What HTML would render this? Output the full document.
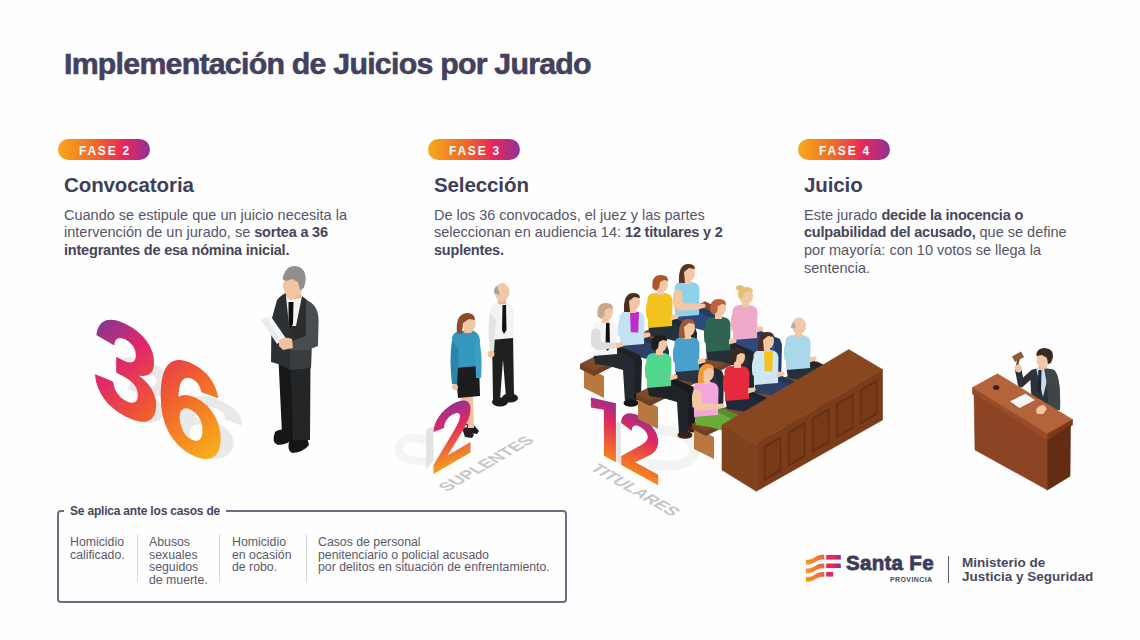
<!DOCTYPE html>
<html><head><meta charset="utf-8">
<style>
html,body{margin:0;padding:0;}
body{width:1140px;height:640px;overflow:hidden;background:#fefefe;position:relative;font-family:"Liberation Sans",sans-serif;color:#46445c;}
.abs{position:absolute;white-space:nowrap;}
#title{left:64px;top:44.2px;font-size:30.3px;font-weight:bold;color:#43415e;letter-spacing:-0.75px;line-height:40px;-webkit-text-stroke:0.6px #43415e;}
.pill{position:absolute;top:139px;height:21px;width:92px;border-radius:11px;background:linear-gradient(90deg,#f7a81b 0%,#f06a28 40%,#e8265c 72%,#8c3496 100%);color:#fff;font-weight:bold;font-size:12px;letter-spacing:1.8px;line-height:24px;text-align:center;text-indent:2px;}
.h2{position:absolute;top:172px;font-size:20.5px;font-weight:bold;color:#403e5a;letter-spacing:-0.1px;line-height:26px;white-space:nowrap;}
.body{position:absolute;top:206.5px;font-size:14.5px;line-height:17.8px;color:#565569;white-space:nowrap;}
.body b{color:#46455b;letter-spacing:-0.2px;}
#box{position:absolute;left:57px;top:510px;width:506px;height:89px;border:2px solid #6e6c82;border-radius:4px;}
#boxlabel{position:absolute;left:64px;top:503px;padding:0 6px;background:#fefefe;font-size:12px;font-weight:bold;color:#48465e;line-height:16px;white-space:nowrap;letter-spacing:-0.2px;}
.col{position:absolute;top:535.8px;font-size:12.3px;line-height:12.8px;color:#5a596c;white-space:nowrap;}
.div{position:absolute;top:534px;width:1px;height:48px;background:#d6d6de;}
</style></head>
<body>
<svg id="ill" class="abs" style="left:0;top:0" width="1140" height="640" viewBox="0 0 1140 640">
<defs>
<linearGradient id="g36" gradientUnits="userSpaceOnUse" x1="5" y1="-92" x2="125" y2="0"><stop offset="0" stop-color="#5f3ea0"/><stop offset="0.3" stop-color="#e0266a"/><stop offset="0.58" stop-color="#f05a30"/><stop offset="1" stop-color="#f8b818"/></linearGradient>
<linearGradient id="g2" gradientUnits="userSpaceOnUse" x1="25" y1="-56" x2="12" y2="0"><stop offset="0" stop-color="#9a3090"/><stop offset="0.35" stop-color="#e2285e"/><stop offset="1" stop-color="#f39a1c"/></linearGradient>
<linearGradient id="g12" gradientUnits="userSpaceOnUse" x1="0" y1="-58" x2="6" y2="0"><stop offset="0" stop-color="#9a3090"/><stop offset="0.35" stop-color="#e2285e"/><stop offset="1" stop-color="#f5821e"/></linearGradient>
</defs>
<!-- ===== Illustration 1: 36 ===== -->
<g font-family="Liberation Sans" font-weight="bold">
 <text transform="translate(92,398) matrix(1,0.5,-0.32,0.6,0,0)" font-size="122" fill="#e9e9e9">3</text>
 <text transform="translate(92,401) matrix(1,0.5,-0.32,0.6,0,0)" font-size="122" fill="#e9e9e9"><tspan x="67.5">6</tspan></text>
 <text transform="translate(93,398) matrix(1,0.5,0,1.07,0,0)" font-size="120" fill="url(#g36)" stroke="url(#g36)" stroke-width="1.5" stroke-linejoin="round">3</text>
 <text transform="translate(90,402) matrix(1,0.5,0,1.05,0,0)" font-size="121" fill="url(#g36)" stroke="url(#g36)" stroke-width="1.5" stroke-linejoin="round"><tspan x="67">6</tspan></text>
</g>
<!-- man in suit -->
<g>
 <path d="M275 432 Q280 428 292 430 L295 437 Q290 444 278 445 Q271 443 275 432 Z" fill="#141516"/>
 <path d="M290 439 Q296 435 307 437 L309 445 Q304 452 292 453 Q286 450 290 439 Z" fill="#141516"/>
 <path d="M278.5 360 L295 360 L294.5 434 L282 434 Z" fill="#161718"/>
 <path d="M290 364 L310.5 364 L310 440 L293 440 L292 400 Z" fill="#232526"/>
 <path d="M277 300 Q282 294 288 292 L302 296 L307 300 L312 320 L311 368 L290 370 L278 364 L271 362 L271.5 320 Z" fill="#2d3032"/>
 <path d="M290 330 L307 300 L312 320 L311 368 L290 370 Z" fill="#2a2c2e"/>
 <path d="M290 348 L311 346 L310.6 368 L290 370 Z" fill="#3a3d40"/>
 <path d="M286 296 L302 296 L296 326 L289 326 Z" fill="#f3f3f3"/>
 <path d="M288.5 302 L293.5 302 L293 324 L290.5 328 L288.5 324 Z" fill="#0f0f10"/>
 <path d="M287 286 L300 286 L301 298 L289 300 Z" fill="#e8b794"/>
 <path d="M284 280 Q283 274 290 273 L300 274 L302 292 L294 299 L287 298 L285 292 L282.5 287 Z" fill="#f2c4a2"/>
 <path d="M282.5 279 Q285 266 295 266 Q306 267 305.7 280 L304 288 L300 290 L298 282 L292 279 L286 281 Z" fill="#8f8f8f"/>
 <path d="M306 300 Q318 304 318.6 320 L318 346 L308 350 L290 350 L289 342 L306 336 Z" fill="#4a4d50"/>
 <path d="M261 320 L270 315.5 L285.5 338 L277 344 Z" fill="#ebebeb"/>
 <path d="M270 315.5 L285.5 338 L281 341 L267 318 Z" fill="#f6f6f6"/>
 <path d="M279 340 Q285 336 292 339 L293 348 L283 350 L279 346 Z" fill="#f0c2a0"/>
</g>
<!-- ILL234 -->
<!-- suplentes -->
<g>
<path d="M426 441 C412 434 398 440 399 451 C400 459 412 462 427 461" fill="none" stroke="#f4f4f5" stroke-width="8"/>
<!-- bald man -->
<ellipse cx="500" cy="402" rx="8" ry="4.5" fill="#1c1c1c"/>
<ellipse cx="510" cy="398" rx="8" ry="4.5" fill="#1c1c1c"/>
<path d="M492 336 L513 334 L514 396 L506 398 L503 360 L500 400 L493 400 Z" fill="#1f2022"/>
<path d="M490 310 Q491 303 498 302 L507 302 Q513 304 514 312 L513 338 L491 340 Z" fill="#f3f3f3"/>
<path d="M490 312 Q487 330 490 350 L494 352 L496 320 Z" fill="#e4e4e4"/>
<path d="M502.5 305 L506 305 L506.5 330 L504 334 L502 330 Z" fill="#111"/>
<ellipse cx="491" cy="354" rx="3.5" ry="3.5" fill="#f0c2a0"/>
<rect x="498" y="296" width="8" height="8" fill="#eab896"/>
<ellipse cx="502" cy="292" rx="7.5" ry="9" fill="#f3c6a5"/>
<path d="M494 293 Q494 287 497 286 L500 295 Z" fill="#9aa2a6"/>
<!-- woman -->
<path d="M466 424 L472 423 L479 431 L477 434 L470 433 Z" fill="#1c1c1c"/>
<path d="M462 428 L468 427 L474 435 L472 438 L465 437 Z" fill="#222"/>
<path d="M461 396 L473 396 L474 428 L468 428 L467 410 L465 426 L461 424 Z" fill="#f2c2a0"/>
<path d="M455 364 L479 362 L480 396 L458 398 Z" fill="#1d1d1f"/>
<path d="M452 338 Q453 331 462 331 L474 331 Q481 334 480 345 L479 366 L455 368 Z" fill="#3497c0"/>
<path d="M452 340 Q449 360 452 384 L457 385 L459 350 Z" fill="#2b84ab"/>
<path d="M478 338 Q483 350 481 378 L476 378 L475 345 Z" fill="#3aa0c8"/>
<ellipse cx="455" cy="387" rx="3" ry="3" fill="#f2c2a0"/>
<rect x="464" y="326" width="7" height="7" fill="#eab896"/>
<ellipse cx="469" cy="324" rx="6.5" ry="9" fill="#f3c6a5"/>
<path d="M457 333 Q455 314 467 313 Q475 313 475 320 L469 319 L463 323 L462 334 Z" fill="#8c4a2a"/>
<!-- 2 -->
<path transform="translate(426,470) matrix(1,-0.58,0,1,0,0)" d="M0 -40 L7.5 -40 L7.5 -6 L0 0 Z" fill="#e3e3e5"/>
<path transform="translate(433.5,474) matrix(1,-0.58,0,1,0,0)" d="M0 0 L37 0 L37 -10.5 L14 -10.5 L30 -27 C35 -33 37 -38 37 -44 C37 -53 29 -59 19 -59 C8 -59 0 -52 0 -42 L10.5 -40 C10.5 -45 14 -48.5 19 -48.5 C23.5 -48.5 26.5 -46 26.5 -43 C26.5 -39 24 -35.5 20 -31 L0 -9 Z" fill="url(#g2)"/>
<g font-family="Liberation Sans" font-weight="bold">
<text transform="translate(447,492) matrix(0.866,-0.5,0.866,0.5,0,0)" font-size="17" fill="#c6c6ca">SUPLENTES</text>
</g>
</g>
<!-- jury -->
<g font-family="Liberation Sans" font-weight="bold">
<path d="M652 430 C676 428 700 440 694 455 C688 466 668 468 648 463" fill="none" stroke="#f3f3f4" stroke-width="10"/>
<path d="M615 424 L621 421 L621 465 L615 461 Z" fill="#e4e4e6"/>
<path transform="translate(604.9,456.3) matrix(1,0.55,0,1,0,0)" d="M-14 -51 L11 -59 L11 0 L-1 0 L-1 -46 L-14 -41 Z" fill="url(#g12)"/>
<path transform="translate(621.2,465) matrix(1,0.55,0,1,0,0)" d="M0 0 L37 0 L37 -10.5 L14 -10.5 L30 -27 C35 -33 37 -38 37 -44 C37 -53 29 -59 19 -59 C8 -59 0 -52 0 -42 L10.5 -40 C10.5 -45 14 -48.5 19 -48.5 C23.5 -48.5 26.5 -46 26.5 -43 C26.5 -39 24 -35.5 20 -31 L0 -9 Z" fill="url(#g12)"/>
<text transform="translate(589,469) matrix(0.866,0.5,-0.866,0.5,0,0)" font-size="17" fill="#c6c6ca">TITULARES</text>
</g>
<path d="M584 366.0 L604 376.0 L604 398.0 L584 388.0 Z" fill="#b8783f"/>
<path d="M580 364 L705 301.5 L719 308.5 L719 313.5 L594 376 L580 369 Z" fill="#6e4125"/>
<path d="M580 364 L705 301.5 L719 308.5 L594 371 Z" fill="#7d4b2b"/>
<g transform="translate(687,265) scale(1.0)">
<path d="M-4 45 L16 43 L35 51 L37 57 L36 91 L28 93 L27 63 L10 59 Z" fill="#2d4a7a"/>
<path d="M-4 45 L16 43 L35 51 L37 57 L36 91 L28 93 L27 63 L10 59 Z" fill="#000" opacity="0.18"/>
<ellipse cx="34" cy="93" rx="7" ry="3.5" fill="#3a1f1f"/>
<path d="M-12 48 L10 46 L28 55 L30 60 L29 96 L20 98 L18 66 L4 62 L-10 60 Z" fill="#2d4a7a"/>
<ellipse cx="26" cy="99" rx="7.5" ry="3.8" fill="#3a1f1f"/>
<path d="M-12.5 22 Q-11 17 -4 17 L5 17 Q12.5 18 12.5 25 L12 50 L-12 52 Z" fill="#8fd0ea"/>
<path d="M-10.5 24 Q-15.5 26 -13.5 42 L-7 46 L12 44 L13 39 L-4 38 L-5 26 Z" fill="#f3c6a5"/>
<path d="M11 39 L17 38.5 Q19.5 40 18 42.5 L11 44.5 Z" fill="#f3c6a5"/>
<rect x="-3" y="13" width="7" height="6" fill="#f3c6a5"/>
<ellipse cx="1" cy="8" rx="7" ry="8.5" fill="#f3c6a5"/>
<path d="M-8 18 Q-9 -1 1 -1 Q8 -1 8 4 L2 3 L-3 7 L-2 18 Z" fill="#5a3626"/>
</g>
<g transform="translate(660,276) scale(1.0)">
<path d="M-4 45 L16 43 L35 51 L37 57 L36 91 L28 93 L27 63 L10 59 Z" fill="#26303a"/>
<path d="M-4 45 L16 43 L35 51 L37 57 L36 91 L28 93 L27 63 L10 59 Z" fill="#000" opacity="0.18"/>
<ellipse cx="34" cy="93" rx="7" ry="3.5" fill="#3a1f1f"/>
<path d="M-12 48 L10 46 L28 55 L30 60 L29 96 L20 98 L18 66 L4 62 L-10 60 Z" fill="#26303a"/>
<ellipse cx="26" cy="99" rx="7.5" ry="3.8" fill="#3a1f1f"/>
<path d="M-12.5 22 Q-11 17 -4 17 L5 17 Q12.5 18 12.5 25 L12 50 L-12 52 Z" fill="#f2c31e"/>
<path d="M-10.5 24 Q-15.5 26 -13.5 42 L-7 46 L12 44 L13 39 L-4 38 L-5 26 Z" fill="#f2c31e"/>
<path d="M11 39 L17 38.5 Q19.5 40 18 42.5 L11 44.5 Z" fill="#f3c6a5"/>
<rect x="-3" y="13" width="7" height="6" fill="#f3c6a5"/>
<ellipse cx="1" cy="8" rx="7" ry="8.5" fill="#f3c6a5"/>
<path d="M-7.5 12 Q-9 -1 1 -1 Q8.5 -1 8 5 L4 4 L0 6 L-1 12 L-4 15 Z" fill="#a8572c"/>
</g>
<g transform="translate(632,294) scale(1.0)">
<path d="M-4 45 L16 43 L35 51 L37 57 L36 91 L28 93 L27 63 L10 59 Z" fill="#2d4066"/>
<path d="M-4 45 L16 43 L35 51 L37 57 L36 91 L28 93 L27 63 L10 59 Z" fill="#000" opacity="0.18"/>
<ellipse cx="34" cy="93" rx="7" ry="3.5" fill="#3a1f1f"/>
<path d="M-12 48 L10 46 L28 55 L30 60 L29 96 L20 98 L18 66 L4 62 L-10 60 Z" fill="#2d4066"/>
<ellipse cx="26" cy="99" rx="7.5" ry="3.8" fill="#3a1f1f"/>
<path d="M-12.5 22 Q-11 17 -4 17 L5 17 Q12.5 18 12.5 25 L12 50 L-12 52 Z" fill="#c5e2f2"/>
<path d="M-2 18 L7 18 L6 44 L-1 44 Z" fill="#b92fc8"/>
<path d="M-10.5 24 Q-15.5 26 -13.5 42 L-7 46 L12 44 L13 39 L-4 38 L-5 26 Z" fill="#c5e2f2"/>
<path d="M11 39 L17 38.5 Q19.5 40 18 42.5 L11 44.5 Z" fill="#f3c6a5"/>
<rect x="-3" y="13" width="7" height="6" fill="#f3c6a5"/>
<ellipse cx="1" cy="8" rx="7" ry="8.5" fill="#f3c6a5"/>
<path d="M-8 18 Q-9 -1 1 -1 Q8 -1 8 4 L2 3 L-3 7 L-2 18 Z" fill="#4a2e22"/>
</g>
<g transform="translate(605,304) scale(1.0)">
<path d="M-4 45 L16 43 L35 51 L37 57 L36 91 L28 93 L27 63 L10 59 Z" fill="#252a30"/>
<path d="M-4 45 L16 43 L35 51 L37 57 L36 91 L28 93 L27 63 L10 59 Z" fill="#000" opacity="0.18"/>
<ellipse cx="34" cy="93" rx="7" ry="3.5" fill="#161616"/>
<path d="M-12 48 L10 46 L28 55 L30 60 L29 96 L20 98 L18 66 L4 62 L-10 60 Z" fill="#252a30"/>
<ellipse cx="26" cy="99" rx="7.5" ry="3.8" fill="#161616"/>
<path d="M-12.5 22 Q-11 17 -4 17 L5 17 Q12.5 18 12.5 25 L12 50 L-12 52 Z" fill="#f5f5f5"/>
<path d="M1 19 L4.5 19 L5 44 L2.5 47 L0.5 44 Z" fill="#111"/>
<path d="M-10.5 24 Q-15.5 26 -13.5 42 L-7 46 L12 44 L13 39 L-4 38 L-5 26 Z" fill="#dedede"/>
<path d="M11 39 L17 38.5 Q19.5 40 18 42.5 L11 44.5 Z" fill="#f3c6a5"/>
<rect x="-3" y="13" width="7" height="6" fill="#f3c6a5"/>
<ellipse cx="1" cy="8" rx="7" ry="8.5" fill="#f3c6a5"/>
<path d="M-7.5 12 Q-9 -1 1 -1 Q8.5 -1 8 5 L4 4 L0 6 L-1 12 L-4 15 Z" fill="#c8a88a"/>
</g>
<path d="M638 397.0 L658 407.0 L658 429.0 L638 419.0 Z" fill="#b8783f"/>
<path d="M636 394 L756 334.0 L770 341.0 L770 346.0 L650 406 L636 399 Z" fill="#6e4125"/>
<path d="M636 394 L756 334.0 L770 341.0 L650 401 Z" fill="#7d4b2b"/>
<g transform="translate(745,288) scale(1.0)">
<path d="M-4 45 L16 43 L35 51 L37 57 L36 91 L28 93 L27 63 L10 59 Z" fill="#2d4a7a"/>
<path d="M-4 45 L16 43 L35 51 L37 57 L36 91 L28 93 L27 63 L10 59 Z" fill="#000" opacity="0.18"/>
<ellipse cx="34" cy="93" rx="7" ry="3.5" fill="#3a1f1f"/>
<path d="M-12 48 L10 46 L28 55 L30 60 L29 96 L20 98 L18 66 L4 62 L-10 60 Z" fill="#2d4a7a"/>
<ellipse cx="26" cy="99" rx="7.5" ry="3.8" fill="#3a1f1f"/>
<path d="M-12.5 22 Q-11 17 -4 17 L5 17 Q12.5 18 12.5 25 L12 50 L-12 52 Z" fill="#efa9c9"/>
<path d="M-10.5 24 Q-15.5 26 -13.5 42 L-7 46 L12 44 L13 39 L-4 38 L-5 26 Z" fill="#efa9c9"/>
<path d="M11 39 L17 38.5 Q19.5 40 18 42.5 L11 44.5 Z" fill="#f3c6a5"/>
<rect x="-3" y="13" width="7" height="6" fill="#f3c6a5"/>
<ellipse cx="1" cy="8" rx="7" ry="8.5" fill="#f3c6a5"/>
<path d="M-7 9 Q-8 -1 1 -1 Q8 -1 8 4 L3 3 L-2 6 L-3 11 Z" fill="#e0c27a"/><ellipse cx="-5" cy="0" rx="4" ry="3" fill="#e0c27a"/>
</g>
<g transform="translate(718,300) scale(1.0)">
<path d="M-4 45 L16 43 L35 51 L37 57 L36 91 L28 93 L27 63 L10 59 Z" fill="#26303a"/>
<path d="M-4 45 L16 43 L35 51 L37 57 L36 91 L28 93 L27 63 L10 59 Z" fill="#000" opacity="0.18"/>
<ellipse cx="34" cy="93" rx="7" ry="3.5" fill="#3a1f1f"/>
<path d="M-12 48 L10 46 L28 55 L30 60 L29 96 L20 98 L18 66 L4 62 L-10 60 Z" fill="#26303a"/>
<ellipse cx="26" cy="99" rx="7.5" ry="3.8" fill="#3a1f1f"/>
<path d="M-12.5 22 Q-11 17 -4 17 L5 17 Q12.5 18 12.5 25 L12 50 L-12 52 Z" fill="#2f6453"/>
<path d="M-10.5 24 Q-15.5 26 -13.5 42 L-7 46 L12 44 L13 39 L-4 38 L-5 26 Z" fill="#2f6453"/>
<path d="M11 39 L17 38.5 Q19.5 40 18 42.5 L11 44.5 Z" fill="#f3c6a5"/>
<rect x="-3" y="13" width="7" height="6" fill="#f3c6a5"/>
<ellipse cx="1" cy="8" rx="7" ry="8.5" fill="#f3c6a5"/>
<path d="M-7.5 12 Q-9 -1 1 -1 Q8.5 -1 8 5 L4 4 L0 6 L-1 12 L-4 15 Z" fill="#b9643a"/>
</g>
<g transform="translate(687,320) scale(1.0)">
<path d="M-4 45 L16 43 L35 51 L37 57 L36 91 L28 93 L27 63 L10 59 Z" fill="#2b3440"/>
<path d="M-4 45 L16 43 L35 51 L37 57 L36 91 L28 93 L27 63 L10 59 Z" fill="#000" opacity="0.18"/>
<ellipse cx="34" cy="93" rx="7" ry="3.5" fill="#3a1f1f"/>
<path d="M-12 48 L10 46 L28 55 L30 60 L29 96 L20 98 L18 66 L4 62 L-10 60 Z" fill="#2b3440"/>
<ellipse cx="26" cy="99" rx="7.5" ry="3.8" fill="#3a1f1f"/>
<path d="M-12.5 22 Q-11 17 -4 17 L5 17 Q12.5 18 12.5 25 L12 50 L-12 52 Z" fill="#4aa0cc"/>
<path d="M-10.5 24 Q-15.5 26 -13.5 42 L-7 46 L12 44 L13 39 L-4 38 L-5 26 Z" fill="#4aa0cc"/>
<path d="M11 39 L17 38.5 Q19.5 40 18 42.5 L11 44.5 Z" fill="#f3c6a5"/>
<rect x="-3" y="13" width="7" height="6" fill="#f3c6a5"/>
<ellipse cx="1" cy="8" rx="7" ry="8.5" fill="#f3c6a5"/>
<path d="M-8 18 Q-9 -1 1 -1 Q8 -1 8 4 L2 3 L-3 7 L-2 18 Z" fill="#9a5a36"/>
</g>
<g transform="translate(659,336) scale(1.0)">
<path d="M-4 45 L16 43 L35 51 L37 57 L36 91 L28 93 L27 63 L10 59 Z" fill="#1f2226"/>
<path d="M-4 45 L16 43 L35 51 L37 57 L36 91 L28 93 L27 63 L10 59 Z" fill="#000" opacity="0.18"/>
<ellipse cx="34" cy="93" rx="7" ry="3.5" fill="#3a1f1f"/>
<path d="M-12 48 L10 46 L28 55 L30 60 L29 96 L20 98 L18 66 L4 62 L-10 60 Z" fill="#1f2226"/>
<ellipse cx="26" cy="99" rx="7.5" ry="3.8" fill="#3a1f1f"/>
<path d="M-12.5 22 Q-11 17 -4 17 L5 17 Q12.5 18 12.5 25 L12 50 L-12 52 Z" fill="#52d68e"/>
<path d="M-10.5 24 Q-15.5 26 -13.5 42 L-7 46 L12 44 L13 39 L-4 38 L-5 26 Z" fill="#52d68e"/>
<path d="M11 39 L17 38.5 Q19.5 40 18 42.5 L11 44.5 Z" fill="#f3c6a5"/>
<rect x="-3" y="13" width="7" height="6" fill="#f3c6a5"/>
<ellipse cx="1" cy="8" rx="7" ry="8.5" fill="#f3c6a5"/>
<path d="M-7.5 12 Q-9 -1 1 -1 Q8.5 -1 8 5 L4 4 L0 6 L-1 12 L-4 15 Z" fill="#1d1d22"/>
</g>
<path d="M694 427.0 L714 437.0 L714 459.0 L694 449.0 Z" fill="#b8783f"/>
<path d="M692 424 L817 361.5 L831 368.5 L831 373.5 L706 436 L692 429 Z" fill="#6e4125"/>
<path d="M692 424 L817 361.5 L831 368.5 L706 431 Z" fill="#7d4b2b"/>
<g transform="translate(798,318) scale(1.0)">
<path d="M-4 45 L16 43 L35 51 L37 57 L36 91 L28 93 L27 63 L10 59 Z" fill="#26303a"/>
<path d="M-4 45 L16 43 L35 51 L37 57 L36 91 L28 93 L27 63 L10 59 Z" fill="#000" opacity="0.18"/>
<ellipse cx="34" cy="93" rx="7" ry="3.5" fill="#3a1f1f"/>
<path d="M-12 48 L10 46 L28 55 L30 60 L29 96 L20 98 L18 66 L4 62 L-10 60 Z" fill="#26303a"/>
<ellipse cx="26" cy="99" rx="7.5" ry="3.8" fill="#3a1f1f"/>
<path d="M-12.5 22 Q-11 17 -4 17 L5 17 Q12.5 18 12.5 25 L12 50 L-12 52 Z" fill="#aad7ea"/>
<path d="M-10.5 24 Q-15.5 26 -13.5 42 L-7 46 L12 44 L13 39 L-4 38 L-5 26 Z" fill="#aad7ea"/>
<path d="M11 39 L17 38.5 Q19.5 40 18 42.5 L11 44.5 Z" fill="#f3c6a5"/>
<rect x="-3" y="13" width="7" height="6" fill="#f3c6a5"/>
<ellipse cx="1" cy="8" rx="7" ry="8.5" fill="#f3c6a5"/>
<path d="M-7 10 Q-7 5 -4 4 L-2 10 Z" fill="#aab0b4"/>
</g>
<g transform="translate(766,333) scale(1.0)">
<path d="M-4 45 L16 43 L35 51 L37 57 L36 91 L28 93 L27 63 L10 59 Z" fill="#2d4066"/>
<path d="M-4 45 L16 43 L35 51 L37 57 L36 91 L28 93 L27 63 L10 59 Z" fill="#000" opacity="0.18"/>
<ellipse cx="34" cy="93" rx="7" ry="3.5" fill="#3a1f1f"/>
<path d="M-12 48 L10 46 L28 55 L30 60 L29 96 L20 98 L18 66 L4 62 L-10 60 Z" fill="#2d4066"/>
<ellipse cx="26" cy="99" rx="7.5" ry="3.8" fill="#3a1f1f"/>
<path d="M-12.5 22 Q-11 17 -4 17 L5 17 Q12.5 18 12.5 25 L12 50 L-12 52 Z" fill="#cfe6f4"/>
<path d="M-2 18 L7 18 L6 44 L-1 44 Z" fill="#f4c21c"/>
<path d="M-10.5 24 Q-15.5 26 -13.5 42 L-7 46 L12 44 L13 39 L-4 38 L-5 26 Z" fill="#cfe6f4"/>
<path d="M11 39 L17 38.5 Q19.5 40 18 42.5 L11 44.5 Z" fill="#f3c6a5"/>
<rect x="-3" y="13" width="7" height="6" fill="#f3c6a5"/>
<ellipse cx="1" cy="8" rx="7" ry="8.5" fill="#f3c6a5"/>
<path d="M-8 18 Q-9 -1 1 -1 Q8 -1 8 4 L2 3 L-3 7 L-2 18 Z" fill="#4a2e22"/>
</g>
<g transform="translate(737,349) scale(1.0)">
<path d="M-4 45 L16 43 L35 51 L37 57 L36 91 L28 93 L27 63 L10 59 Z" fill="#1f2a3a"/>
<path d="M-4 45 L16 43 L35 51 L37 57 L36 91 L28 93 L27 63 L10 59 Z" fill="#000" opacity="0.18"/>
<ellipse cx="34" cy="93" rx="7" ry="3.5" fill="#3a1f1f"/>
<path d="M-12 48 L10 46 L28 55 L30 60 L29 96 L20 98 L18 66 L4 62 L-10 60 Z" fill="#1f2a3a"/>
<ellipse cx="26" cy="99" rx="7.5" ry="3.8" fill="#3a1f1f"/>
<path d="M-12.5 22 Q-11 17 -4 17 L5 17 Q12.5 18 12.5 25 L12 50 L-12 52 Z" fill="#e62a3e"/>
<path d="M-10.5 24 Q-15.5 26 -13.5 42 L-7 46 L12 44 L13 39 L-4 38 L-5 26 Z" fill="#e62a3e"/>
<path d="M11 39 L17 38.5 Q19.5 40 18 42.5 L11 44.5 Z" fill="#f3c6a5"/>
<rect x="-3" y="13" width="7" height="6" fill="#f3c6a5"/>
<ellipse cx="1" cy="8" rx="7" ry="8.5" fill="#f3c6a5"/>
<path d="M-7.5 12 Q-9 -1 1 -1 Q8.5 -1 8 5 L4 4 L0 6 L-1 12 L-4 15 Z" fill="#3a2a24"/>
</g>
<g transform="translate(706,365) scale(1.0)">
<path d="M-4 45 L16 43 L35 51 L37 57 L36 91 L28 93 L27 63 L10 59 Z" fill="#6aac3a"/>
<path d="M-4 45 L16 43 L35 51 L37 57 L36 91 L28 93 L27 63 L10 59 Z" fill="#000" opacity="0.18"/>
<ellipse cx="34" cy="93" rx="7" ry="3.5" fill="#3a1f1f"/>
<path d="M-12 48 L10 46 L28 55 L30 60 L29 96 L20 98 L18 66 L4 62 L-10 60 Z" fill="#6aac3a"/>
<ellipse cx="26" cy="99" rx="7.5" ry="3.8" fill="#3a1f1f"/>
<path d="M-12.5 22 Q-11 17 -4 17 L5 17 Q12.5 18 12.5 25 L12 50 L-12 52 Z" fill="#f3a5dc"/>
<path d="M-10.5 24 Q-15.5 26 -13.5 42 L-7 46 L12 44 L13 39 L-4 38 L-5 26 Z" fill="#f3c6a5"/>
<path d="M11 39 L17 38.5 Q19.5 40 18 42.5 L11 44.5 Z" fill="#f3c6a5"/>
<rect x="-3" y="13" width="7" height="6" fill="#f3c6a5"/>
<ellipse cx="1" cy="8" rx="7" ry="8.5" fill="#f3c6a5"/>
<path d="M-8 18 Q-9 -1 1 -1 Q8 -1 8 4 L2 3 L-3 7 L-2 18 Z" fill="#f09a3a"/>
</g>
<path d="M722 425 L756.25 443.75 L756.25 491.25 L722 470 Z" fill="#80411d" stroke="#80411d" stroke-width="0.6"/>
<path d="M756.25 443.75 L882.5 369.5 L882.5 420 L756.25 491.25 Z" fill="#7a3c1a" stroke="#7a3c1a" stroke-width="0.6"/>
<path d="M722 425 L848.75 349.5 L882.5 369.5 L756.25 443.75 Z" fill="#89471f" stroke="#89471f" stroke-width="0.6"/>
<path d="M763.75 446.25 L781.25 435.95 L781.25 470.95 L763.75 481.25 Z" fill="#652f10"/>
<path d="M765.35 447.45 L779.65 439.05 L779.65 469.45 L765.35 478.05 Z" fill="#773a19"/>
<path d="M787.81 432.10 L805.31 421.80 L805.31 456.80 L787.81 467.10 Z" fill="#652f10"/>
<path d="M789.41 433.30 L803.71 424.90 L803.71 455.30 L789.41 463.90 Z" fill="#773a19"/>
<path d="M811.87 417.96 L829.37 407.66 L829.37 442.66 L811.87 452.96 Z" fill="#652f10"/>
<path d="M813.47 419.16 L827.77 410.76 L827.77 441.16 L813.47 449.76 Z" fill="#773a19"/>
<path d="M835.93 403.81 L853.43 393.51 L853.43 428.51 L835.93 438.81 Z" fill="#652f10"/>
<path d="M837.53 405.01 L851.83 396.61 L851.83 427.01 L837.53 435.61 Z" fill="#773a19"/>
<path d="M859.99 389.66 L877.49 379.36 L877.49 414.36 L859.99 424.66 Z" fill="#652f10"/>
<path d="M861.59 390.86 L875.89 382.46 L875.89 412.86 L861.59 421.46 Z" fill="#773a19"/>
<!-- judge -->
<g stroke-linejoin="round">
<path d="M1033 373 L1021 384 L1018.5 371" fill="none" stroke="#2b3136" stroke-width="6.5" stroke-linecap="round"/>
<path d="M1030 372 Q1036 367 1044 367 L1054 370 Q1061 376 1060 410 L1034 410 L1031 392 Z" fill="#2c3237"/>
<path d="M1036 368 L1050 368 L1043 397 Z" fill="#c6def0"/>
<path d="M1038.5 370 L1041.5 370 L1041 391 L1039 394 L1037.5 391 Z" fill="#1c2632"/>
<path d="M1044 368 L1054 370 Q1061 376 1060 410 L1049 411 L1047 385 Z" fill="#3f474d"/>
<path d="M1050 382 L1059 384 L1058 405 L1046 414 L1038 410 L1049 402 Z" fill="#3d444a"/>
<path d="M1016.5 368 L1019.5 355" stroke="#6e4228" stroke-width="2.2"/>
<path d="M1012 356.5 L1021 351.5 L1024 357 L1015 362 Z" fill="#8c5a3a"/>
<ellipse cx="1018.5" cy="368.5" rx="3.2" ry="4" fill="#f0c3a2"/>
<rect x="1039" y="362" width="7" height="7" fill="#e6b493"/>
<path d="M1037 356 Q1037 350 1043 350 L1048 352 L1049 364 L1044 369 L1039 367 L1036.5 362 Z" fill="#f3c6a5"/>
<path d="M1036.5 356 Q1036 348 1045 348 Q1054 349 1053 357 L1051 363 L1048 364 L1047 358 L1042 355 Z" fill="#3b2a1f"/>
<path d="M972.5 387.5 L997.5 373.75 L1072.5 419.5 L1047.5 433.75 Z" fill="#b3643b" stroke="#b3643b" stroke-width="0.6"/>
<path d="M972.5 387.5 L1047.5 433.75 L1047.5 440 L972.5 394 Z" fill="#9b4b28" stroke="#9b4b28" stroke-width="0.6"/>
<path d="M1047.5 433.75 L1072.5 419.5 L1072.5 425 L1047.5 440 Z" fill="#7a3819" stroke="#7a3819" stroke-width="0.6"/>
<path d="M974 394 L1047.5 440 L1047.5 490 L975 450 Z" fill="#8c4425" stroke="#8c4425" stroke-width="0.6"/>
<path d="M1047.5 440 L1070.5 425 L1070 476.25 L1047.5 490 Z" fill="#642c13" stroke="#642c13" stroke-width="0.6"/>
<path d="M1010 401.25 L1025.5 393.75 L1035 400 L1019.5 408 Z" fill="#f6f6f6"/>
<ellipse cx="996.25" cy="387.5" rx="3.2" ry="2.3" fill="#3a1e14"/>
<path d="M1036 410 Q1038 405 1044 405 L1047 409 L1043 414 L1037 414 Z" fill="#f3c6a5"/>
</g>
<!-- /ILL234 -->
</svg>
<div id="title" class="abs">Implementación de Juicios por Jurado</div>

<div class="pill" style="left:58px">FASE 2</div>
<div class="pill" style="left:428px">FASE 3</div>
<div class="pill" style="left:798px">FASE 4</div>

<div class="h2" style="left:64px">Convocatoria</div>
<div class="h2" style="left:434px">Selección</div>
<div class="h2" style="left:804px">Juicio</div>

<div class="body" style="left:64px">Cuando se estipule que un juicio necesita la<br>intervención de un jurado, se <b>sortea a 36</b><br><b>integrantes de esa nómina inicial.</b></div>
<div class="body" style="left:434px">De los 36 convocados, el juez y las partes<br>seleccionan en audiencia 14: <b>12 titulares y 2</b><br><b>suplentes.</b></div>
<div class="body" style="left:804px">Este jurado <b>decide la inocencia o</b><br><b>culpabilidad del acusado,</b> que se define<br>por mayoría: con 10 votos se llega la<br>sentencia.</div>

<div id="box"></div>
<div id="boxlabel">Se aplica ante los casos de</div>
<div class="col" style="left:70px">Homicidio<br>calificado.</div>
<div class="div" style="left:137px"></div>
<div class="col" style="left:149px">Abusos<br>sexuales<br>seguidos<br>de muerte.</div>
<div class="div" style="left:219px"></div>
<div class="col" style="left:232px">Homicidio<br>en ocasión<br>de robo.</div>
<div class="div" style="left:306px"></div>
<div class="col" style="left:318px">Casos de personal<br>penitenciario o policial acusado<br>por delitos en situación de enfrentamiento.</div>


<svg class="abs" style="left:800px;top:550px" width="50" height="36" viewBox="800 550 50 36">
<defs>
<linearGradient id="lgO" x1="0" y1="0" x2="1" y2="0"><stop offset="0" stop-color="#f49c1a"/><stop offset="1" stop-color="#ee6040"/></linearGradient>
<linearGradient id="lgM" x1="0" y1="0" x2="1" y2="0"><stop offset="0" stop-color="#e2285e"/><stop offset="0.5" stop-color="#e3275f"/><stop offset="1" stop-color="#8e2f8f"/></linearGradient>
</defs>
<path transform="translate(0,0)" d="M805.9 559.8 C810 559.8 812 559.2 815 557.3 C818 555.4 820 554.8 824.2 554.8 L824.2 559.6 C820 559.6 818 560.2 815 562.1 C812 564 810 564.6 805.9 564.6 Z" fill="url(#lgO)"/>
<path transform="translate(0,8.6)" d="M805.9 559.8 C810 559.8 812 559.2 815 557.3 C818 555.4 820 554.8 824.2 554.8 L824.2 559.6 C820 559.6 818 560.2 815 562.1 C812 564 810 564.6 805.9 564.6 Z" fill="url(#lgO)"/>
<path transform="translate(0,17.2)" d="M805.9 559.8 C810 559.8 812 559.2 815 557.3 C818 555.4 820 554.8 824.2 554.8 L824.2 559.6 C820 559.6 818 560.2 815 562.1 C812 564 810 564.6 805.9 564.6 Z" fill="url(#lgO)"/>
<rect x="826.2" y="555" width="14.6" height="4.6" fill="url(#lgM)"/>
<rect x="826.2" y="563.5" width="14.6" height="4.6" fill="url(#lgM)"/>
<rect x="826.2" y="572" width="7" height="4.6" fill="#e2285e"/>
</svg>
<div class="abs" id="sf" style="left:846px;top:551px;font-size:20.5px;font-weight:bold;color:#3d3b5a;letter-spacing:0.3px;line-height:24px;-webkit-text-stroke:0.8px #3d3b5a;">Santa Fe</div>
<div class="abs" id="prov" style="left:890px;top:575px;font-size:7px;font-weight:bold;color:#4a4862;letter-spacing:0.4px;line-height:9px;">PROVINCIA</div>
<div class="abs" style="left:947.5px;top:556px;width:1.5px;height:27px;background:#5e5c74;"></div>
<div class="abs" id="min" style="left:962px;top:556px;font-size:13.5px;font-weight:bold;color:#4a4862;line-height:13.6px;">Ministerio de<br>Justicia y Seguridad</div>
</body></html>
